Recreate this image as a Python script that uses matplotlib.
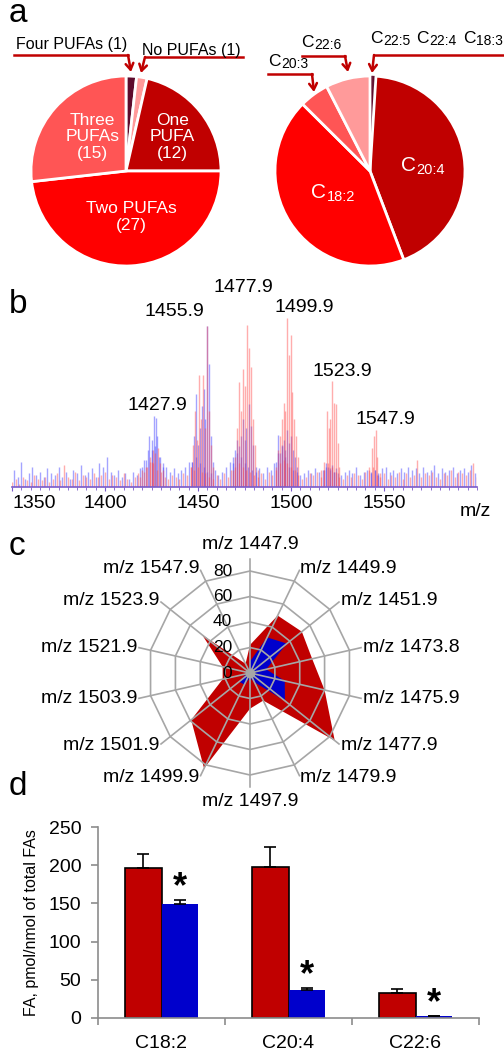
import numpy as np
import matplotlib
matplotlib.use('Agg')
import matplotlib.pyplot as plt
from matplotlib.ticker import MultipleLocator
from matplotlib.transforms import offset_copy

plt.rcParams['font.family'] = ['Liberation Sans', 'DejaVu Sans']

# ---------------- data ----------------
# panel a
pie1_labels = ['Four PUFAs', 'No PUFAs', 'One PUFA', 'Two PUFAs', 'Three PUFAs']
pie1_counts = [1, 1, 12, 27, 15]
pie2_labels = ['C22:5', 'C22:4', 'C18:3', 'C20:4', 'C18:2', 'C20:3', 'C22:6']
pie2_values = [0.4, 0.3, 0.3, 43.0, 43.0, 5.0, 7.5]

# panel b : spectrum (relative intensity)
red_noise = [3, 5, 2, 6, 4, 3, 7, 5, 4, 6, 3,
             5, 8, 4, 13, 6, 5, 9, 4, 7, 6, 5, 8, 6, 7,
             9, 5, 7, 6, 4, 8, 5, 3, 6, 8, 10,
             12, 15, 14, 10, 9, 6, 5, 7, 6, 5, 8, 7, 12,
             10, 12, 9, 8, 6, 5, 7, 5, 8, 6, 10, 12,
             14, 12, 10, 9, 7, 6, 8, 5, 9, 7, 10, 14,
             16, 14, 12, 10, 7, 5, 6, 8, 7, 9, 6, 10,
             14, 12, 9, 6, 5, 7, 6, 8, 7, 5, 9, 10,
             12, 7, 6, 8, 5, 7, 6, 9, 5, 8, 6, 7,
             16, 6, 8, 7, 9, 6, 5, 8, 7, 10, 6, 9, 8, 7, 10, 14, 6]
blue_noise = [10, 6, 15, 5, 8, 12, 7, 9, 6, 11, 8,
              7, 12, 6, 9, 5, 10, 8, 13, 7, 9, 11, 6, 14, 12,
              18, 9, 7, 10, 6, 8, 5, 9, 7, 11, 16,
              22, 28, 24, 18, 14, 12, 9, 11, 8, 10, 12, 15,
              15, 18, 14, 12, 9, 8, 10, 7, 9, 12, 15, 18,
              20, 18, 14, 12, 10, 9, 11, 8, 12, 10, 14, 20,
              24, 18, 12, 10, 9, 7, 8, 10, 8, 11, 9, 10,
              12, 11, 9, 8, 7, 9, 10, 8, 12, 7, 9, 10,
              9, 10, 8, 11, 12, 9, 10, 8, 11, 9, 12, 10,
              11, 8, 12, 9, 10, 13, 8, 11, 9, 10, 12, 8, 10, 11, 9, 13, 8]
red_noise_mz = np.arange(1350, 1601, 2)
blue_noise_mz = np.arange(1351, 1600, 2)

red_peak_mz = [1419, 1421, 1422.5, 1424, 1425, 1426, 1427, 1428.5, 1429.5, 1431,
               1446.5, 1447.5, 1448.5, 1449.5, 1450.5, 1451.5, 1452.7, 1453.6, 1454.8, 1455.8, 1456.8, 1458,
               1469, 1470, 1471, 1472, 1473, 1474.2, 1475, 1476.3, 1477.4, 1478.5, 1479.5, 1480.5, 1482,
               1492, 1493, 1494, 1495, 1496.2, 1497, 1497.8, 1498.9, 1500, 1500.6, 1501.5, 1502.5, 1504,
               1516, 1518, 1519.4, 1520.4, 1521.2, 1522, 1523, 1524.2, 1525, 1526,
               1542, 1543.5, 1544.5, 1545.7, 1546.5, 1548]
red_peak_int = [6, 9, 12, 18, 15, 22, 20, 23, 14, 10,
                12, 25, 45, 28, 66, 40, 66, 35, 95, 45, 25, 12,
                10, 18, 35, 62, 45, 70, 60, 96, 82, 71, 40, 25, 10,
                12, 22, 30, 40, 50, 45, 100, 78, 90, 56, 40, 30, 18,
                10, 15, 45, 35, 40, 63, 50, 49, 26, 12,
                12, 23, 30, 34, 18, 8]
blue_peak_mz = [1420, 1422, 1423.5, 1425, 1426.5, 1427.3, 1428, 1429.5, 1431,
                1447, 1448, 1449, 1450, 1451, 1452, 1453, 1454, 1454.8, 1455.8, 1457, 1458,
                1469, 1470, 1471, 1472, 1473, 1474, 1475, 1476, 1477.4, 1478.5, 1479.5, 1481,
                1492, 1493, 1494, 1495, 1496, 1497, 1497.8, 1499, 1500, 1501, 1502, 1503,
                1518, 1519, 1520, 1521, 1522, 1523, 1524,
                1543, 1545, 1547]
blue_peak_int = [12, 16, 30, 22, 42, 41, 30, 18, 12,
                 15, 30, 55, 25, 35, 48, 58, 40, 95, 73, 30, 15,
                 14, 22, 28, 24, 30, 40, 28, 35, 49, 36, 25, 12,
                 15, 31, 20, 25, 28, 22, 34, 26, 30, 22, 18, 12,
                 10, 14, 12, 10, 13, 9, 11,
                 8, 10, 7]
spec_ticks = [1350, 1400, 1450, 1500, 1550]
peak_labels = ['1427.9', '1455.9', '1477.9', '1499.9', '1523.9', '1547.9']

# panel c : radar
radar_labels = ['m/z 1447.9', 'm/z 1449.9', 'm/z 1451.9', 'm/z 1473.8', 'm/z 1475.9',
                'm/z 1477.9', 'm/z 1479.9', 'm/z 1497.9', 'm/z 1499.9', 'm/z 1501.9',
                'm/z 1503.9', 'm/z 1521.9', 'm/z 1523.9', 'm/z 1547.9']
radar_red = [22, 50, 52, 50, 60, 85, 24, 28, 83, 59, 22, 22, 48, 8]
radar_blue = [9, 31, 37, 13, 28, 35, 8, 4, 10, 11, 3, 3, 2, 2]
radar_rings = [20, 40, 60, 80]
radar_ticklabels = ['0', '20', '40', '60', '80']

# panel d : bars
fa_names = ['C18:2', 'C20:4', 'C22:6']
ctrl_mean = [196, 198, 33]
ctrl_err = [19, 26, 5]
treat_mean = [149, 37, 2]
treat_err = [5, 2, 1]
bar_yticks = [0, 50, 100, 150, 200, 250]

# ---------------- figure ----------------
W, H = 504, 1050
fig = plt.figure(figsize=(W / 100, H / 100), dpi=100)


def px_axes(x0, y0, x1, y1, **kw):
    return fig.add_axes([x0 / W, 1 - y1 / H, (x1 - x0) / W, (y1 - y0) / H], **kw)


RED = '#c00000'
BLUE = '#0000cc'
DARK = '#5e0b2c'

# ---- panel a pies ----
R = 95
ax1 = px_axes(126 - 100, 171 - 100, 126 + 100, 171 + 100)
ax1.pie(pie1_counts, colors=[DARK, '#ff9a9a', RED, '#ff0000', '#ff5555'],
        startangle=90, counterclock=False, radius=1,
        wedgeprops=dict(edgecolor='white', linewidth=2))
ax1.set_xlim(-100 / R, 100 / R)
ax1.set_ylim(-100 / R, 100 / R)
ax1.set_aspect('equal')
ax1.axis('off')
tkw = dict(color='white', fontsize=12.5, ha='center', va='center', linespacing=1.15)
ax1.text(-0.35, 0.36, 'Three\nPUFAs\n(15)', **tkw)
ax1.text(0.49, 0.36, 'One\nPUFA\n(12)', **tkw)
ax1.text(0.06, -0.48, 'Two PUFAs\n(27)', **tkw)

ax2 = px_axes(370 - 100, 171 - 100, 370 + 100, 171 + 100)
ax2.pie(pie2_values, colors=[DARK, DARK, DARK, RED, '#ff0000', '#ff5555', '#ff9a9a'],
        startangle=90, counterclock=False, radius=1,
        wedgeprops=dict(edgecolor='white', linewidth=2))
for wd in ax2.patches[:3]:
    wd.set_edgecolor(DARK)
    wd.set_linewidth(0.3)
ax2.set_xlim(-100 / R, 100 / R)
ax2.set_ylim(-100 / R, 100 / R)
ax2.set_aspect('equal')
ax2.axis('off')

# ---- panel b spectrum ----
axb = px_axes(12, 318, 477, 487)
axb.vlines(blue_noise_mz, 0, blue_noise, color='#4a4aff', alpha=0.5, lw=1.0)
axb.vlines(blue_peak_mz, 0, blue_peak_int, color='#4a4aff', alpha=0.5, lw=1.0)
axb.vlines(red_noise_mz, 0, red_noise, color='#ff4a4a', alpha=0.45, lw=1.0)
axb.vlines(red_peak_mz, 0, red_peak_int, color='#ff4a4a', alpha=0.45, lw=1.0)
axb.set_xlim(1350, 1600)
axb.set_ylim(0, 100)
for s in ['top', 'right', 'left']:
    axb.spines[s].set_visible(False)
axb.spines['bottom'].set_color('#7a5ac8')
axb.spines['bottom'].set_linewidth(1.2)
axb.set_yticks([])
axb.set_xticks(spec_ticks)
axb.set_xticklabels([str(t) for t in spec_ticks], fontsize=14)
axb.xaxis.set_minor_locator(MultipleLocator(5))
axb.tick_params(axis='x', which='major', length=3, color='#7a5ac8', pad=3)
axb.tick_params(axis='x', which='minor', length=2, color='#7a5ac8')
axb.get_xticklabels()[0].set_horizontalalignment('left')
axb.patch.set_alpha(0)

# ---- panel c radar ----
RPX = 90 * 1.275
axc = px_axes(250 - RPX, 673 - RPX, 250 + RPX, 673 + RPX, projection='polar')
n = len(radar_labels)
ang = np.arange(n) * 2 * np.pi / n
angc = np.append(ang, ang[0])
axc.set_theta_zero_location('N')
axc.set_theta_direction(-1)
axc.set_ylim(0, 90)
axc.grid(False)
axc.spines['polar'].set_visible(False)
axc.set_xticks([])
axc.set_yticks([])
axc.patch.set_alpha(0)
axc.fill(angc, np.append(radar_red, radar_red[0]), color=RED, lw=0, zorder=1)
axc.fill(angc, np.append(radar_blue, radar_blue[0]), color=BLUE, lw=0, zorder=2)
for rr in radar_rings:
    axc.plot(angc, [rr] * (n + 1), color='#a6a6a6', lw=1.2, zorder=3)
for a in ang:
    axc.plot([a, a], [0, 90], color='#a6a6a6', lw=1.2, zorder=3)
axc.plot([0], [0], 'o', color='#a6a6a6', ms=6, zorder=4)
tr = offset_copy(axc.transData, fig=fig, x=-18, y=0, units='dots')
for lab, rv in zip(radar_ticklabels, [0] + radar_rings):
    axc.text(0, rv, lab, transform=tr, ha='right', va='center', fontsize=12.5, zorder=5)
for a, lab in zip(ang, radar_labels):
    s = np.sin(a)
    if abs(s) < 0.05:
        ha = 'center'
        va = 'bottom' if np.cos(a) > 0 else 'top'
        r = 94
    else:
        ha = 'left' if s > 0 else 'right'
        va = 'center'
        r = 91
    axc.text(a, r, lab, ha=ha, va=va, fontsize=14, clip_on=False)

# ---- panel d bars ----
axd = px_axes(98, 827, 479, 1018)
bx = np.arange(len(fa_names))
w = 0.286
ekw = dict(ecolor='black', elinewidth=1.2, capsize=4, capthick=1.2)
axd.bar(bx - w / 2, ctrl_mean, w, color=RED, edgecolor='black', linewidth=1.2,
        yerr=[np.zeros(len(bx)), ctrl_err], error_kw=ekw, zorder=2)
axd.bar(bx + w / 2, treat_mean, w, color=BLUE, linewidth=0,
        yerr=[np.zeros(len(bx)), treat_err], error_kw=ekw, zorder=2)
for xi, m, e in zip(bx + w / 2, treat_mean, treat_err):
    axd.annotate('*', (xi, m + e), xytext=(0, 9), textcoords='offset points',
                 ha='center', va='center', fontsize=26, fontweight='bold')
axd.set_xlim(-0.5, len(bx) - 0.5)
axd.set_ylim(0, 250)
axd.set_yticks(bar_yticks)
axd.set_yticklabels([str(t) for t in bar_yticks], fontsize=14)
axd.set_xticks(bx)
axd.set_xticklabels(fa_names, fontsize=14)
axd.set_xticks(np.arange(len(bx) + 1) - 0.5, minor=True)
axd.tick_params(axis='x', which='major', length=0, pad=12)
axd.tick_params(axis='x', which='minor', length=5, color='#8c8c8c', width=1.2)
axd.tick_params(axis='y', length=5, color='#8c8c8c', width=1.2, pad=7)
for s in ['top', 'right']:
    axd.spines[s].set_visible(False)
for s in ['left', 'bottom']:
    axd.spines[s].set_color('#8c8c8c')
    axd.spines[s].set_linewidth(1.2)
axd.set_ylabel('FA, pmol/nmol of total FAs', fontsize=11.5, labelpad=7)
axd.patch.set_alpha(0)

# ---- overlay for annotations ----
ov = fig.add_axes([0, 0, 1, 1], zorder=10)
ov.set_xlim(0, W)
ov.set_ylim(H, 0)
ov.axis('off')
for lab, (x, y) in zip(['a', 'b', 'c', 'd'], [(9, 22), (9, 313), (9, 555), (9, 795)]):
    ov.text(x, y, lab, fontsize=24, ha='left', va='baseline')


def chem(x, y, subs, fs_main, fs_sub, color='black', gap=4.5, drop=1.0):
    """Draw 'C' with a subscript for each entry of subs, chained left to right."""
    first = None
    prev = None
    for sub in subs:
        if first is None:
            c = ov.text(x, y, 'C', fontsize=fs_main, color=color, ha='left', va='baseline')
            first = c
        else:
            c = ov.annotate('C', xy=(1, 0), xycoords=(prev, first), xytext=(gap, 0),
                            textcoords='offset points', fontsize=fs_main, color=color,
                            ha='left', va='bottom')
        prev = ov.annotate(sub, xy=(1, 0), xycoords=c, xytext=(0.3, drop),
                           textcoords='offset points', fontsize=fs_sub, color=color,
                           ha='left', va='baseline')


akw = dict(arrowstyle='->,head_length=0.45,head_width=0.28', color=RED, lw=1.8,
           shrinkA=0, shrinkB=0)
# left pie callouts
ov.text(16, 44, 'Four PUFAs (1)', fontsize=11.5, ha='left', va='center')
ov.plot([14, 128], [55, 55], color=RED, lw=1.8)
ov.annotate('', xy=(131, 72), xytext=(128, 55), arrowprops=akw)
ov.text(142, 51, 'No PUFAs (1)', fontsize=11.5, ha='left', va='center')
ov.plot([145, 243], [57, 57], color=RED, lw=1.8)
ov.annotate('', xy=(141, 73), xytext=(145, 57), arrowprops=akw)
# right pie callouts
chem(301, 47, ['22:6'], 12.5, 10)
ov.plot([302, 345], [56, 56], color=RED, lw=1.8)
ov.annotate('', xy=(348, 72), xytext=(345, 56), arrowprops=akw)
chem(268, 66, ['20:3'], 12.5, 10)
ov.plot([268, 312], [74, 74], color=RED, lw=1.8)
ov.annotate('', xy=(314, 92), xytext=(312, 74), arrowprops=akw)
chem(370, 43, ['22:5', '22:4', '18:3'], 12.5, 10)
ov.plot([374, 504], [55, 55], color=RED, lw=1.8)
ov.annotate('', xy=(372, 73), xytext=(374, 55), arrowprops=akw)
# labels inside right pie
chem(401, 171, ['20:4'], 15, 10.5, color='white')
chem(311, 198, ['18:2'], 15, 10.5, color='white')

# spectrum peak labels
for lab, (x, y) in zip(peak_labels, [(157, 405), (174, 312), (243, 287), (304, 307), (342, 372), (385, 420)]):
    ov.text(x, y, lab, fontsize=14, ha='center', va='center')
ov.text(460, 512, 'm/z', fontsize=14, ha='left', va='center')

fig.savefig('out.png', dpi=100)
